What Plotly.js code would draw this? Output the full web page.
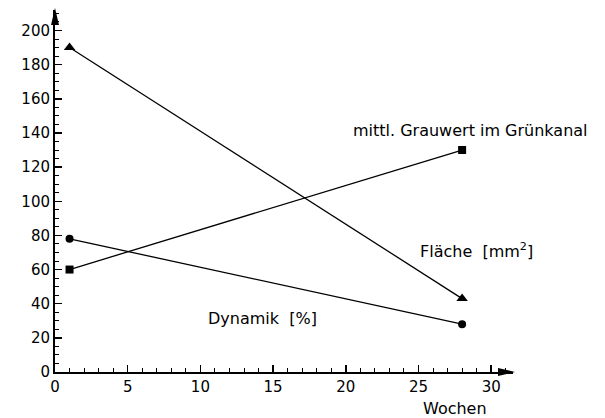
<!DOCTYPE html>
<html><head><meta charset="utf-8">
<script src="https://cdn.plot.ly/plotly-3.0.1.min.js"></script>
<style>body{margin:0;background:#fff}#plot{width:605px;height:418px}</style>
</head><body><div id="plot"></div>
<script>
const weeks = [1, 28];
const flaeche = [190, 43];
const grauwert = [60, 130];
const dynamik = [78, 28];
const seriesNames = ["Fläche&nbsp; [mm<sup>2</sup>]", "mittl. Grauwert im Grünkanal", "Dynamik&nbsp; [%]"];
const xTitle = "Wochen";
const xTicks = [0, 5, 10, 15, 20, 25, 30];
const yTicks = [0, 20, 40, 60, 80, 100, 120, 140, 160, 180, 200];

const font = {family: "DejaVu Sans, sans-serif", size: 16, color: "#000"};
const tickFont = {family: "DejaVu Sans, sans-serif", size: 15, color: "#000"};
const line = {color: "#000", width: 1.3};

const traces = [
  {x: weeks, y: flaeche, mode: "lines+markers", line: line, marker: {symbol: "triangle-up", size: 10, color: "#000"}, name: seriesNames[0]},
  {x: weeks, y: grauwert, mode: "lines+markers", line: line, marker: {symbol: "square", size: 8, color: "#000"}, name: seriesNames[1]},
  {x: weeks, y: dynamik, mode: "lines+markers", line: line, marker: {symbol: "circle", size: 8, color: "#000"}, name: seriesNames[2]}
];

const layout = {
  width: 605, height: 418,
  margin: {l: 55, r: 92, t: 10, b: 46},
  showlegend: false,
  paper_bgcolor: "#fff", plot_bgcolor: "#fff",
  font: font,
  xaxis: {
    range: [0, 31.5], showgrid: false, zeroline: false,
    showline: true, linecolor: "#000", linewidth: 2,
    tickvals: xTicks,
    ticks: "inside", ticklen: 7, tickwidth: 1.5, tickcolor: "#000",
    minor: {dtick: 1, tick0: 0, ticks: "inside", ticklen: 4, tickwidth: 1, tickcolor: "#000", showgrid: false},
    tickfont: tickFont
  },
  yaxis: {
    range: [0, 212], showgrid: false, zeroline: false,
    showline: true, linecolor: "#000", linewidth: 2,
    tickvals: yTicks,
    ticks: "inside", ticklen: 7, tickwidth: 1.5, tickcolor: "#000",
    minor: {dtick: 5, tick0: 0, ticks: "inside", ticklen: 4, tickwidth: 1, tickcolor: "#000", showgrid: false},
    tickfont: tickFont
  },
  shapes: [
    {type: "path", xref: "paper", yref: "paper", xsizemode: "pixel", ysizemode: "pixel", xanchor: 1, yanchor: 0,
     path: "M 2 0 L -15 4 L -15 -4 Z", fillcolor: "#000", line: {width: 0}},
    {type: "path", xref: "paper", yref: "paper", xsizemode: "pixel", ysizemode: "pixel", xanchor: 0, yanchor: 1,
     path: "M 0 2 L -4 -15 L 4 -15 Z", fillcolor: "#000", line: {width: 0}}
  ],
  annotations: [
    {x: 28.55, y: 141.5, xref: "x", yref: "y", text: seriesNames[1], showarrow: false, xanchor: "center", font: font},
    {x: 29.0, y: 71, xref: "x", yref: "y", text: seriesNames[0], showarrow: false, xanchor: "center", font: font},
    {x: 14.3, y: 31.5, xref: "x", yref: "y", text: seriesNames[2], showarrow: false, xanchor: "center", font: font},
    {x: 27.5, y: 0, xref: "x", yref: "paper", yanchor: "middle", yshift: -36, text: xTitle, showarrow: false, xanchor: "center", font: font}
  ]
};

Plotly.newPlot("plot", traces, layout, {displayModeBar: false, staticPlot: true});
</script></body></html>
